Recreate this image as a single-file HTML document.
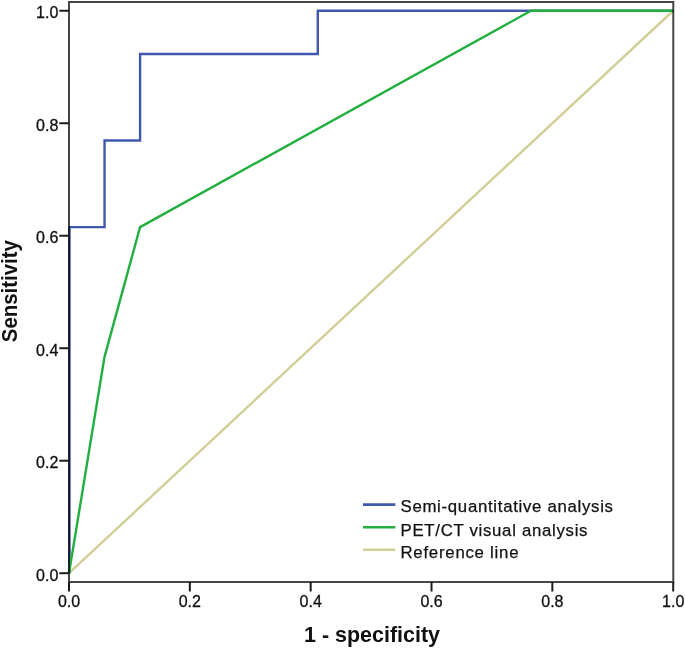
<!DOCTYPE html>
<html><head><meta charset="utf-8"><style>
html,body{margin:0;padding:0;background:#fff;}
body{width:685px;height:649px;overflow:hidden;}
svg{display:block;will-change:transform;}
.t{font-family:"Liberation Sans",sans-serif;font-size:16px;fill:#111;stroke:#111;stroke-width:0.3px;}
.l{font-family:"Liberation Sans",sans-serif;font-size:16.8px;fill:#111;stroke:#111;stroke-width:0.25px;}
.b{font-family:"Liberation Sans",sans-serif;font-size:22px;font-weight:bold;fill:#111;}
</style></head><body>
<svg width="685" height="649" viewBox="0 0 685 649">
<polyline points="69.00,573.20 673.20,10.75" fill="none" stroke="#d3ce97" stroke-width="2.4" stroke-linejoin="miter" stroke-linecap="butt"/>
<polyline points="69.50,573.20 69.50,227.08 104.54,227.08 104.54,140.55 140.08,140.55 140.08,54.02 317.79,54.02 317.79,10.75 673.20,10.75" fill="none" stroke="#3f58ac" stroke-width="2.4" stroke-linejoin="miter" stroke-linecap="butt"/>
<polyline points="69.00,573.20 104.54,356.87 140.08,227.08 531.04,10.75 673.20,10.75" fill="none" stroke="#22af40" stroke-width="2.4" stroke-linejoin="miter" stroke-linecap="butt"/>
<path d="M69,1 V583 M68,2 H674.3 M673.3,1 V583 M68,582 H674.3" fill="none" stroke="#000" stroke-opacity="0.73" stroke-width="2"/>
<line x1="59.3" y1="573.20" x2="69" y2="573.20" stroke="#1c1c1c" stroke-width="2"/>
<text x="58.3" y="580.90" text-anchor="end" class="t">0.0</text>
<line x1="59.3" y1="460.71" x2="69" y2="460.71" stroke="#1c1c1c" stroke-width="2"/>
<text x="58.3" y="468.41" text-anchor="end" class="t">0.2</text>
<line x1="59.3" y1="348.22" x2="69" y2="348.22" stroke="#1c1c1c" stroke-width="2"/>
<text x="58.3" y="355.92" text-anchor="end" class="t">0.4</text>
<line x1="59.3" y1="235.73" x2="69" y2="235.73" stroke="#1c1c1c" stroke-width="2"/>
<text x="58.3" y="243.43" text-anchor="end" class="t">0.6</text>
<line x1="59.3" y1="123.24" x2="69" y2="123.24" stroke="#1c1c1c" stroke-width="2"/>
<text x="58.3" y="130.94" text-anchor="end" class="t">0.8</text>
<line x1="59.3" y1="10.75" x2="69" y2="10.75" stroke="#1c1c1c" stroke-width="2"/>
<text x="58.3" y="17.90" text-anchor="end" class="t">1.0</text>
<line x1="69.00" y1="582" x2="69.00" y2="591.5" stroke="#1c1c1c" stroke-width="2"/>
<text x="69.00" y="606.9" text-anchor="middle" class="t">0.0</text>
<line x1="189.84" y1="582" x2="189.84" y2="591.5" stroke="#1c1c1c" stroke-width="2"/>
<text x="189.84" y="606.9" text-anchor="middle" class="t">0.2</text>
<line x1="310.68" y1="582" x2="310.68" y2="591.5" stroke="#1c1c1c" stroke-width="2"/>
<text x="310.68" y="606.9" text-anchor="middle" class="t">0.4</text>
<line x1="431.52" y1="582" x2="431.52" y2="591.5" stroke="#1c1c1c" stroke-width="2"/>
<text x="431.52" y="606.9" text-anchor="middle" class="t">0.6</text>
<line x1="552.36" y1="582" x2="552.36" y2="591.5" stroke="#1c1c1c" stroke-width="2"/>
<text x="552.36" y="606.9" text-anchor="middle" class="t">0.8</text>
<line x1="673.20" y1="582" x2="673.20" y2="591.5" stroke="#1c1c1c" stroke-width="2"/>
<text x="673.20" y="606.9" text-anchor="middle" class="t">1.0</text>
<line x1="363" y1="504.6" x2="395.3" y2="504.6" stroke="#3f58ac" stroke-width="2.6"/>
<text x="400.5" y="511.80" class="l" textLength="212.5" lengthAdjust="spacing">Semi-quantitative analysis</text>
<line x1="363" y1="527.3" x2="395.3" y2="527.3" stroke="#22af40" stroke-width="2.6"/>
<text x="400.5" y="535.90" class="l" textLength="187" lengthAdjust="spacing">PET/CT visual analysis</text>
<line x1="363" y1="549.7" x2="395.3" y2="549.7" stroke="#d3ce97" stroke-width="2.6"/>
<text x="400.5" y="558.20" class="l" textLength="118" lengthAdjust="spacing">Reference line</text>
<text x="304" y="642.3" class="b" textLength="136" lengthAdjust="spacingAndGlyphs">1 - specificity</text>
<text transform="translate(17.2,342.2) rotate(-90)" class="b" textLength="102" lengthAdjust="spacingAndGlyphs">Sensitivity</text>
</svg>
</body></html>
